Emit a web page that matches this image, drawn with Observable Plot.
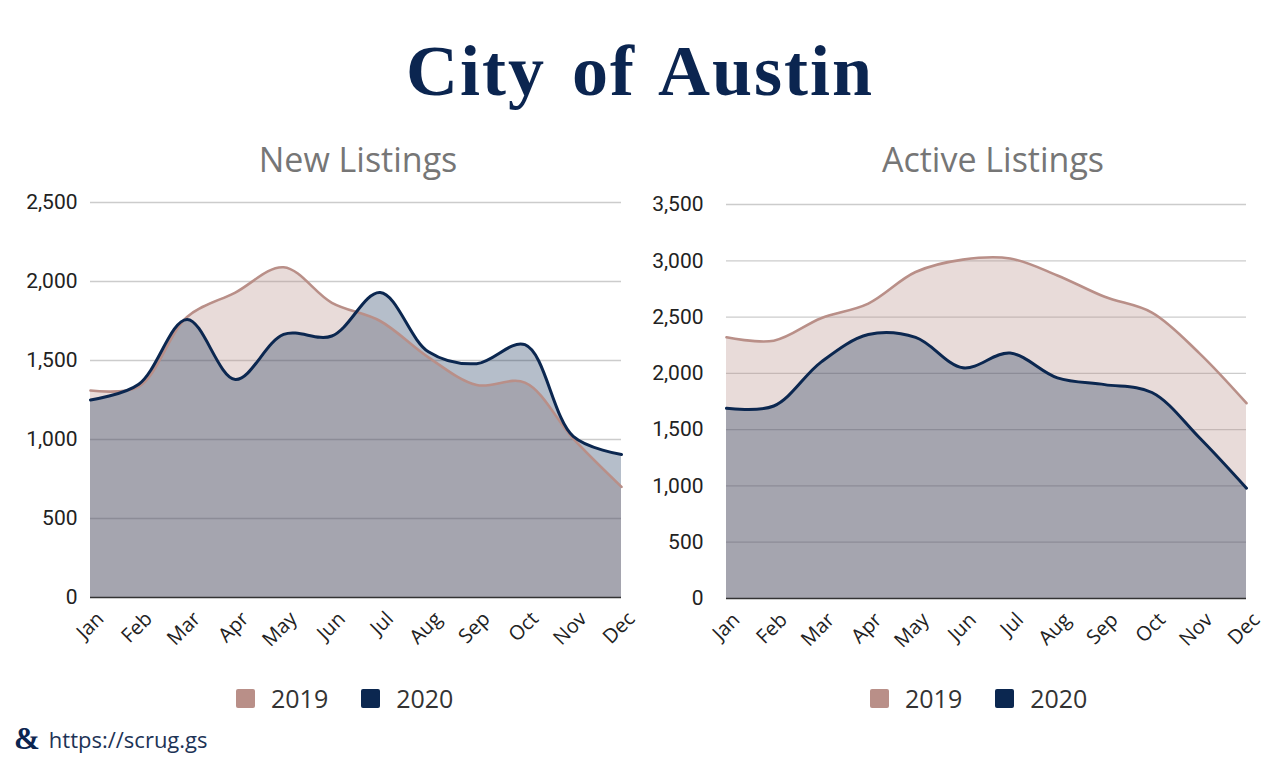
<!DOCTYPE html>
<html><head><meta charset="utf-8">
<script src="https://cdn.jsdelivr.net/npm/d3@7"></script>
<script src="https://cdn.jsdelivr.net/npm/@observablehq/plot@0.6"></script>
<style>
body{margin:0;background:#fff;width:1280px;height:761px;position:relative;overflow:hidden;font-family:"Open Sans",sans-serif;}
.abs{position:absolute;}
#title{left:0;width:1280px;top:36px;text-align:center;font-family:"Liberation Serif",serif;font-weight:bold;font-size:72px;line-height:70px;color:#0b2550;letter-spacing:2px;word-spacing:6px;}
.sub{font-size:34px;line-height:34px;color:#767676;text-align:center;width:600px;top:142px;}
.legend{display:flex;align-items:center;top:684px;height:28px;font-size:25px;color:#333;}
.item{display:flex;align-items:center;margin-right:33px;}
.sw{width:19px;height:19px;border-radius:2px;margin-right:16px;}
#footer{left:14px;top:721px;display:flex;align-items:center;color:#1d3356;font-size:22px;}
#amp{font-family:"Liberation Serif",serif;font-weight:bold;font-size:31px;margin-right:9px;color:#0b2550;}
</style></head>
<body>
<div id="title" class="abs">City of Austin</div>
<div class="abs sub" style="left:58px;">New Listings</div>
<div class="abs sub" style="left:693px;">Active Listings</div>
<div id="c1" class="abs" style="left:0;top:185px;"></div>
<div id="c2" class="abs" style="left:640px;top:185px;"></div>
<div id="lg1" class="abs legend" style="left:236px;"></div>
<div id="lg2" class="abs legend" style="left:870px;"></div>
<div id="footer" class="abs"><span id="amp">&amp;</span><span>https://scrug.gs</span></div>
<script>
const months = ["Jan","Feb","Mar","Apr","May","Jun","Jul","Aug","Sep","Oct","Nov","Dec"];
const seriesNames = ["2019","2020"];
const seriesColors = ["#b98f88","#0b2750"];
const newListings2019 = [1310,1335,1775,1930,2090,1865,1750,1520,1345,1360,1005,700];
const newListings2020 = [1250,1350,1760,1380,1665,1655,1930,1555,1480,1600,1020,905];
const activeListings2019 = [2320,2290,2490,2620,2900,3010,3020,2870,2680,2540,2180,1735];
const activeListings2020 = [1690,1710,2100,2345,2320,2050,2180,1960,1900,1830,1430,980];
const newTicks = [0,500,1000,1500,2000,2500];
const activeTicks = [0,500,1000,1500,2000,2500,3000,3500];

function chart(v19, v20, yTicks, o) {
  const d19 = months.map((m,i)=>({i, v:v19[i]}));
  const d20 = months.map((m,i)=>({i, v:v20[i]}));
  return Plot.plot({
    width:640, height:470,
    marginLeft:o.ml, marginRight:o.mr, marginTop:o.mt, marginBottom:o.mb,
    style:{background:"transparent", overflow:"visible", color:"#222"},
    x:{domain:[0,11]},
    y:{domain:[0, yTicks[yTicks.length-1]]},
    marks:[
      Plot.ruleY(yTicks.slice(1), {stroke:"#cccccc", strokeWidth:1.3}),
      Plot.areaY(d19, {x:"i", y:"v", fill:seriesColors[0], fillOpacity:0.32, curve:"catmull-rom"}),
      Plot.areaY(d20, {x:"i", y:"v", fill:seriesColors[1], fillOpacity:0.3, curve:"catmull-rom"}),
      Plot.lineY(d19, {x:"i", y:"v", stroke:seriesColors[0], strokeWidth:2.6, curve:"catmull-rom"}),
      Plot.lineY(d20, {x:"i", y:"v", stroke:seriesColors[1], strokeWidth:3, curve:"catmull-rom"}),
      Plot.ruleY([0], {stroke:"#333", strokeWidth:1.5}),
      Plot.axisY({ticks:yTicks, tickFormat:d3.format(","), tickSize:0, tickPadding:o.tp, label:null, fontSize:21, fontFamily:"Roboto", fill:"#222"}),
      Plot.axisX({ticks:d3.range(12), tickFormat:i=>months[i], tickRotate:-45, tickSize:0, tickPadding:18, dx:10, label:null, fontSize:20, fontFamily:"Open Sans", fill:"#222"})
    ]
  });
}
document.getElementById("c1").append(chart(newListings2019, newListings2020, newTicks, {ml:90, mr:19, mt:17, mb:58, tp:13}));
document.getElementById("c2").append(chart(activeListings2019, activeListings2020, activeTicks, {ml:86, mr:34, mt:19, mb:57, tp:23}));

for (const id of ["lg1","lg2"]) {
  const el = document.getElementById(id);
  seriesNames.forEach((n,k)=>{
    const it = document.createElement("div"); it.className="item";
    const sw = document.createElement("div"); sw.className="sw"; sw.style.background=seriesColors[k];
    const t = document.createElement("span"); t.textContent=n;
    it.append(sw,t); el.append(it);
  });
}
</script>
</body></html>
